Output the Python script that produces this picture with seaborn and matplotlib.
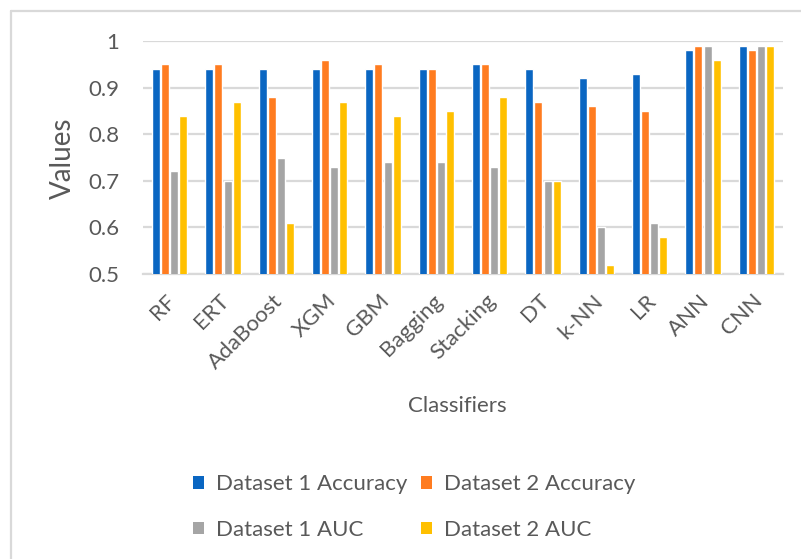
import matplotlib
matplotlib.use("Agg")
import matplotlib.pyplot as plt
from matplotlib.lines import Line2D
from matplotlib.patches import Patch
import matplotlib.transforms as mtransforms
import seaborn as sns
import pandas as pd

classifiers = ["RF", "ERT", "AdaBoost", "XGM", "GBM", "Bagging", "Stacking",
               "DT", "k-NN", "LR", "ANN", "CNN"]
d1_accuracy = [0.94, 0.94, 0.94, 0.94, 0.94, 0.94, 0.95, 0.94, 0.92, 0.93, 0.98, 0.99]
d2_accuracy = [0.95, 0.95, 0.88, 0.96, 0.95, 0.94, 0.95, 0.87, 0.86, 0.85, 0.99, 0.98]
d1_auc = [0.72, 0.70, 0.75, 0.73, 0.74, 0.74, 0.73, 0.70, 0.60, 0.61, 0.99, 0.99]
d2_auc = [0.84, 0.87, 0.61, 0.87, 0.84, 0.85, 0.88, 0.70, 0.52, 0.58, 0.96, 0.99]
series_names = ["Dataset 1 Accuracy", "Dataset 2 Accuracy", "Dataset 1 AUC", "Dataset 2 AUC"]
y_ticks = [0.5, 0.6, 0.7, 0.8, 0.9, 1.0]
y_tick_labels = ["0.5", "0.6", "0.7", "0.8", "0.9", "1"]

colors = ["#0A66C2", "#FF7C20", "#A5A5A5", "#FFC000"]
text_color = "#595959"
grid_color = "#D9D9D9"

rows = []
for name, vals in zip(series_names, [d1_accuracy, d2_accuracy, d1_auc, d2_auc]):
    for c, v in zip(classifiers, vals):
        rows.append({"Classifier": c, "Series": name, "Value": v})
df = pd.DataFrame(rows)

sns.set_style("white")
plt.rcParams["font.family"] = ["Lato", "DejaVu Sans"]

fig = plt.figure(figsize=(8.01, 5.59), dpi=100)
ax = fig.add_axes([143 / 801, 1 - 274 / 559, 640 / 801, 233 / 559])

sns.barplot(data=df, x="Classifier", y="Value", hue="Series",
            order=classifiers, hue_order=series_names, palette=colors,
            width=0.68, gap=0.12, saturation=1, errorbar=None, ax=ax,
            legend=False, zorder=3)

ax.set_ylim(0.5, 1.0)
ax.set_xlim(-0.5, len(classifiers) - 0.5)
ax.set_yticks(y_ticks)
ax.set_yticklabels(y_tick_labels)
ax.yaxis.grid(True, color=grid_color, linewidth=1.6, zorder=0)
ax.set_axisbelow(True)
for s in ["top", "right", "left"]:
    ax.spines[s].set_visible(False)
ax.spines["bottom"].set_color(grid_color)
ax.spines["bottom"].set_linewidth(1.6)
ax.tick_params(axis="y", length=0, pad=17, labelsize=16, labelcolor=text_color)
ax.tick_params(axis="x", length=0, pad=12, labelsize=16, labelcolor=text_color)

offset = mtransforms.ScaledTranslation(-4 / 100, 0, fig.dpi_scale_trans)
for lbl in ax.get_xticklabels():
    lbl.set_rotation(45)
    lbl.set_ha("right")
    lbl.set_rotation_mode("anchor")
    lbl.set_transform(lbl.get_transform() + offset)

ax.set_xlabel("")
ax.set_ylabel("")
fig.text(63 / 801, 1 - 158 / 559, "Values", rotation=90, ha="center", va="center",
         fontsize=20, color=text_color)
fig.text(457 / 801, 1 - 406 / 559, "Classifiers", ha="center", va="center",
         fontsize=16, color=text_color)

handles = [Patch(facecolor=colors[i], edgecolor="none") for i in [0, 2, 1, 3]]
labels = [series_names[i] for i in [0, 2, 1, 3]]
fig.legend(handles, labels, ncol=2, loc="center left",
           bbox_to_anchor=(173 / 801, 1 - 507 / 559), frameon=False,
           fontsize=16, labelcolor=text_color, handlelength=0.5, handleheight=0.5,
           handletextpad=0.55, columnspacing=0.6, labelspacing=1.15)

# outer frame (top and left edges)
fig.add_artist(Line2D([11 / 801, 1.0], [1 - 11 / 559] * 2, transform=fig.transFigure,
                      color=grid_color, linewidth=1.6))
fig.add_artist(Line2D([11 / 801] * 2, [0, 1 - 11 / 559], transform=fig.transFigure,
                      color=grid_color, linewidth=1.6))

fig.savefig("out.png", dpi=100, facecolor="white")
